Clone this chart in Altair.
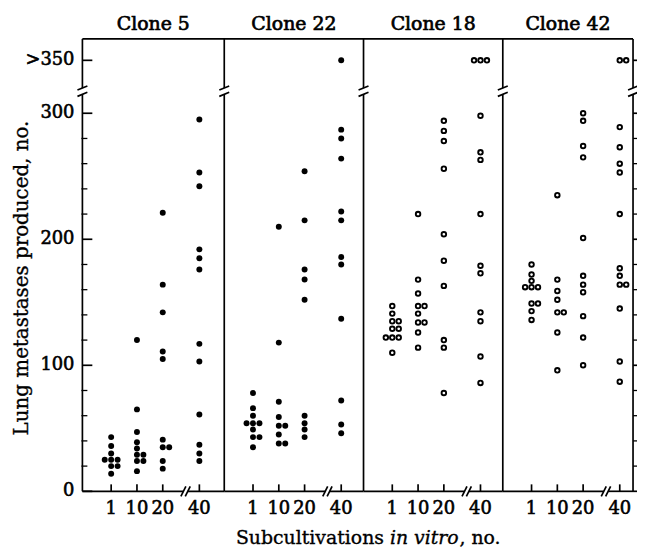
import altair as alt
import pandas as pd

# ---------------- data ----------------
CLONES = ["Clone 5", "Clone 22", "Clone 18", "Clone 42"]
FILLED = [True, True, False, False]
PASSAGES = ["1", "10", "20", "40"]
OVER = ">350"

c5_p1 = [43, 36, 30, 25, 25, 25, 20, 20, 14]
c5_p10 = [120, 65, 47, 39, 34, 29, 29, 24, 24, 16]
c5_p20 = [221, 164, 142, 111, 105, 41, 35, 35, 24, 18]
c5_p40 = [295, 253, 242, 192, 185, 176, 117, 103, 61, 37, 30, 24]

c22_p1 = [78, 66, 60, 54, 54, 54, 49, 43, 43, 35]
c22_p10 = [210, 118, 71, 59, 52, 52, 45, 38, 38]
c22_p20 = [254, 215, 176, 168, 152, 60, 54, 49, 43]
c22_p40 = [OVER, 287, 280, 264, 222, 215, 186, 180, 137, 72, 53, 46]

c18_p1 = [147, 141, 135, 135, 129, 129, 122, 122, 122, 110]
c18_p10 = [220, 168, 157, 147, 147, 141, 134, 134, 126, 114]
c18_p20 = [294, 286, 278, 256, 204, 183, 163, 120, 114, 78]
c18_p40 = [OVER, OVER, OVER, 298, 269, 263, 220, 179, 173, 142, 135, 107, 86]

c42_p1 = [180, 172, 167, 162, 162, 162, 149, 149, 143, 136]
c42_p10 = [235, 168, 159, 152, 142, 142, 126, 96]
c42_p20 = [300, 294, 274, 265, 201, 171, 164, 158, 139, 122, 100]
c42_p40 = [OVER, OVER, 289, 273, 260, 253, 220, 177, 171, 164, 164, 145, 103, 87]

SERIES = {
    "Clone 5": [c5_p1, c5_p10, c5_p20, c5_p40],
    "Clone 22": [c22_p1, c22_p10, c22_p20, c22_p40],
    "Clone 18": [c18_p1, c18_p10, c18_p20, c18_p40],
    "Clone 42": [c42_p1, c42_p10, c42_p20, c42_p40],
}

Y_TITLE = "Lung metastases produced, no."
X_TITLE_PARTS = ["Subcultivations", "in vitro", ", no."]
Y_MAJOR = [0, 100, 200, 300]
Y_MAJOR_LABELS = ["0", "100", "200", "300"]
Y_MINOR = [20, 40, 60, 80, 120, 140, 160, 180, 220, 240, 260, 280]

# ---------------- broken-axis layout ----------------
Y_MAX = 359            # top of the frame, in units of the 0-300 scale
Y_OVER = 342           # where ">350" sits above the axis break
BREAK_Y = [315, 320]
PASSAGE_POS = [1.0, 2.0, 3.0, 4.42]   # 1, 10, 20, // 40 (in passage steps)
BREAK_X = [3.8, 3.97]
PANEL_SPANS = [5.5, 5.4, 5.4, 5.05]    # panel widths in passage steps
LEAD = 0.115
DODGE = 0.25

PANEL_START = []
acc = 0.0
for s in PANEL_SPANS:
    PANEL_START.append(acc)
    acc += s
TOTAL = acc

W = 555
H = 456
FONT = "DejaVu Serif"
BLACK = "#000000"
LW = 1.7
PX = TOTAL / W          # one pixel in x units

xs = alt.Scale(domain=[0, TOTAL], nice=False, zero=False)
ys = alt.Scale(domain=[0, Y_MAX], nice=False, zero=False)


def X(f):
    return alt.X(f, scale=xs, axis=None)


def Y(f):
    return alt.Y(f, scale=ys, axis=None)


# points
rows = []
for k, clone in enumerate(CLONES):
    for p, pos, vals in zip(PASSAGES, PASSAGE_POS, SERIES[clone]):
        counts = {}
        for v in vals:
            counts[v] = counts.get(v, 0) + 1
        seen = {}
        for v in vals:
            n = counts[v]
            j = seen.get(v, 0)
            seen[v] = j + 1
            slot = (j - 1) if n >= 3 else j
            rows.append({
                "clone": clone,
                "filled": FILLED[k],
                "passage": p,
                "xg": PANEL_START[k] + LEAD + pos + slot * DODGE,
                "yplot": Y_OVER if v == OVER else v,
            })
pts_df = pd.DataFrame(rows)

filled = alt.Chart(pts_df[pts_df["filled"]]).mark_circle(size=36, color=BLACK, opacity=1).encode(
    x=X("xg:Q"), y=Y("yplot:Q"))
openc = alt.Chart(pts_df[~pts_df["filled"]]).mark_point(
    shape="circle", filled=False, size=21, strokeWidth=1.9, color=BLACK, opacity=1).encode(
    x=X("xg:Q"), y=Y("yplot:Q"))

# vertical frame lines (panel dividers) with break
edges = PANEL_START + [TOTAL]
vseg = pd.DataFrame([{"x": e, "y1": a, "y2": b}
                     for e in edges for a, b in [(0, BREAK_Y[0]), (BREAK_Y[1], Y_MAX)]])
vlines = alt.Chart(vseg).mark_rule(color=BLACK, strokeWidth=LW).encode(
    x=X("x:Q"), y=Y("y1:Q"), y2="y2:Q")
vsl = pd.DataFrame([{"x1": e - 5 * PX, "x2": e + 5 * PX, "y1": b - 1.6, "y2": b + 1.6}
                    for e in edges for b in BREAK_Y])
vslash = alt.Chart(vsl).mark_rule(color=BLACK, strokeWidth=LW).encode(
    x=X("x1:Q"), x2="x2:Q", y=Y("y1:Q"), y2="y2:Q")

# top border
top = alt.Chart(pd.DataFrame({"x1": [0], "x2": [TOTAL], "y": [Y_MAX]})).mark_rule(
    color=BLACK, strokeWidth=LW).encode(x=X("x1:Q"), x2="x2:Q", y=Y("y:Q"))

# bottom axis with break in each panel
hseg = []
hsl = []
for k, s in enumerate(PANEL_START):
    end = s + PANEL_SPANS[k]
    hseg.append({"x1": s, "x2": s + LEAD + BREAK_X[0]})
    hseg.append({"x1": s + LEAD + BREAK_X[1], "x2": end})
    for b in BREAK_X:
        hsl.append({"x1": s + LEAD + b - 2.5 * PX, "x2": s + LEAD + b + 2.5 * PX})
bottom = alt.Chart(pd.DataFrame(hseg)).mark_rule(color=BLACK, strokeWidth=LW).encode(
    x=X("x1:Q"), x2="x2:Q", y=alt.value(H))
bslash = alt.Chart(pd.DataFrame(hsl)).mark_rule(color=BLACK, strokeWidth=LW).encode(
    x=X("x1:Q"), x2="x2:Q", y=alt.value(H + 5), y2=alt.value(H - 5))

TXT = dict(font=FONT, color=BLACK, stroke=BLACK)

# x ticks and labels
xt = pd.DataFrame([{"x": s + LEAD + pos, "label": p}
                   for s in PANEL_START for p, pos in zip(PASSAGES, PASSAGE_POS)])
xticks = alt.Chart(xt).mark_rule(color=BLACK, strokeWidth=LW).encode(
    x=X("x:Q"), y=alt.value(H), y2=alt.value(H - 7))
xlabels = alt.Chart(xt).mark_text(fontSize=18, strokeWidth=0.6, baseline="top",
                                  align="center", **TXT).encode(
    x=X("x:Q"), y=alt.value(H + 9), text="label:N")

# y ticks (left, inward) and right edge ticks (outward)
ymaj = pd.DataFrame({"v": Y_MAJOR + [Y_OVER], "label": Y_MAJOR_LABELS + [OVER]})
ymin = pd.DataFrame({"v": Y_MINOR})
lt_major = alt.Chart(ymaj).mark_rule(color=BLACK, strokeWidth=LW).encode(
    y=Y("v:Q"), x=alt.value(0), x2=alt.value(10))
lt_minor = alt.Chart(ymin).mark_rule(color=BLACK, strokeWidth=1.3).encode(
    y=Y("v:Q"), x=alt.value(-1), x2=alt.value(5))
rt_major = alt.Chart(ymaj).mark_rule(color=BLACK, strokeWidth=LW).encode(
    y=Y("v:Q"), x=alt.value(W), x2=alt.value(W + 8))
rt_minor = alt.Chart(ymin).mark_rule(color=BLACK, strokeWidth=1.3).encode(
    y=Y("v:Q"), x=alt.value(W), x2=alt.value(W + 4))
ylabels = alt.Chart(ymaj).mark_text(fontSize=18, strokeWidth=0.6, align="right",
                                    baseline="middle", **TXT).encode(
    y=Y("v:Q"), x=alt.value(-8), text="label:N")

# titles
ytitle = alt.Chart(pd.DataFrame({"t": [Y_TITLE]})).mark_text(
    fontSize=20, strokeWidth=0.35, angle=270, align="center", baseline="alphabetic", **TXT).encode(
    text="t:N", x=alt.value(-55), y=alt.value(241))

ptitles = alt.Chart(pd.DataFrame({"x": [s + PANEL_SPANS[k] / 2 for k, s in enumerate(PANEL_START)],
                                  "t": CLONES})).mark_text(
    fontSize=19, strokeWidth=0.7, align="center", baseline="alphabetic", **TXT).encode(
    x=X("x:Q"), y=alt.value(-9), text="t:N")

xt_df = pd.DataFrame({"t": X_TITLE_PARTS})
xt1 = alt.Chart(xt_df.iloc[[0]]).mark_text(fontSize=19, strokeWidth=0.35, align="right",
                                           baseline="alphabetic", **TXT).encode(
    text="t:N", x=alt.value(304), y=alt.value(H + 53))
xt2 = alt.Chart(xt_df.iloc[[1]]).mark_text(fontSize=19, strokeWidth=0.35, fontStyle="italic",
                                           align="left", baseline="alphabetic", **TXT).encode(
    text="t:N", x=alt.value(310), y=alt.value(H + 53))
xt3 = alt.Chart(xt_df.iloc[[2]]).mark_text(fontSize=19, strokeWidth=0.35, align="left",
                                           baseline="alphabetic", **TXT).encode(
    text="t:N", x=alt.value(380), y=alt.value(H + 53))

chart = alt.layer(
    vlines, vslash, top, bottom, bslash, xticks, xlabels,
    lt_major, lt_minor, rt_major, rt_minor, ylabels,
    filled, openc, ytitle, ptitles, xt1, xt2, xt3,
).properties(
    width=W, height=H,
    autosize=alt.AutoSizeParams(type="none"),
    padding={"left": 75, "top": 29, "right": 4, "bottom": 56},
).configure_view(stroke=None)

chart.save("out.html", embed_options={"renderer": "svg", "actions": False})
